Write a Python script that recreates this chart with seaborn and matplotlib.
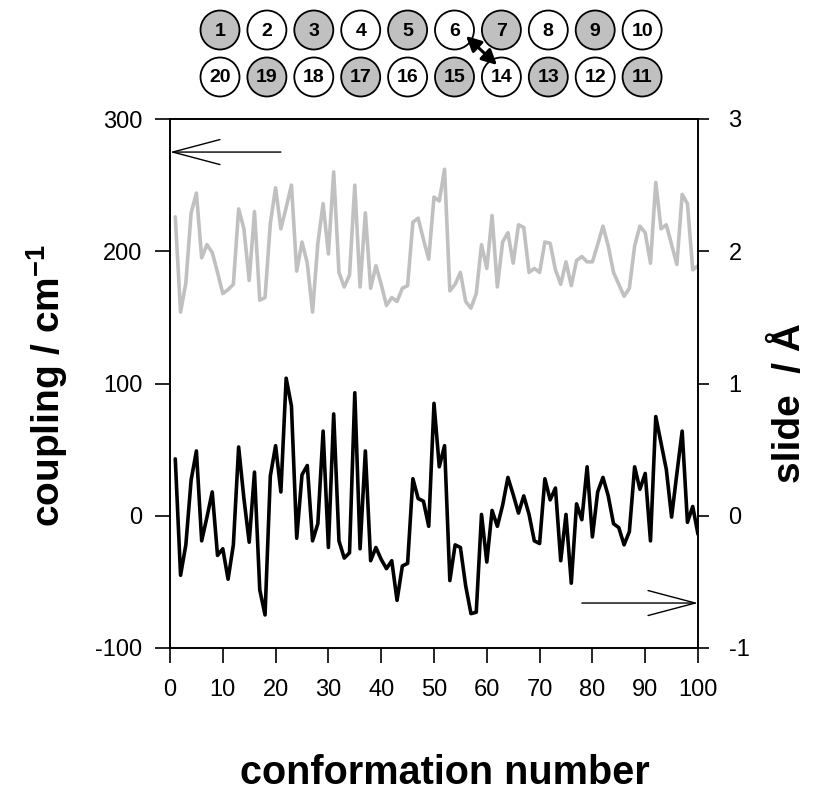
import numpy as np
import pandas as pd
import seaborn as sns
import matplotlib
matplotlib.use("Agg")
from matplotlib import pyplot as plt
from matplotlib.patches import Circle

# conformation index
conf = list(range(1, 101))

# coupling (cm^-1), grey trace, left axis
coupling = [226, 154, 176, 229, 244, 195, 205, 199, 184, 168,
            171, 175, 232, 217, 178, 230, 163, 165, 221, 248,
            217, 233, 250, 185, 207, 191, 154, 206, 236, 198,
            260, 184, 173, 182, 250, 173, 229, 172, 189, 175,
            159, 165, 162, 172, 174, 222, 225, 209, 194, 241,
            238, 262, 170, 175, 184, 162, 157, 168, 205, 187,
            227, 173, 207, 214, 191, 220, 218, 184, 187, 184,
            207, 206, 186, 175, 192, 174, 193, 196, 192, 192,
            205, 219, 204, 184, 175, 166, 172, 204, 219, 214,
            191, 252, 217, 220, 205, 190, 243, 236, 186, 189]

# slide (Angstrom), black trace, right axis
slide = [0.43, -0.45, -0.22, 0.27, 0.49, -0.19, -0.01, 0.18, -0.30, -0.25,
         -0.48, -0.22, 0.52, 0.13, -0.20, 0.33, -0.56, -0.75, 0.30, 0.53,
         0.18, 1.04, 0.83, -0.17, 0.31, 0.38, -0.19, -0.06, 0.64, -0.24,
         0.77, -0.19, -0.32, -0.28, 0.93, -0.25, 0.49, -0.34, -0.24, -0.33,
         -0.40, -0.34, -0.64, -0.38, -0.36, 0.28, 0.13, 0.11, -0.08, 0.85,
         0.37, 0.53, -0.49, -0.22, -0.24, -0.53, -0.74, -0.73, 0.01, -0.35,
         0.04, -0.08, 0.08, 0.29, 0.16, 0.02, 0.15, 0.01, -0.19, -0.21,
         0.28, 0.12, 0.21, -0.34, 0.01, -0.51, 0.09, -0.03, 0.37, -0.16,
         0.18, 0.29, 0.15, -0.06, -0.09, -0.22, -0.12, 0.37, 0.20, 0.32,
         -0.19, 0.75, 0.55, 0.35, -0.01, 0.32, 0.64, -0.05, 0.07, -0.14]

# stacking diagram
top_row = [1, 2, 3, 4, 5, 6, 7, 8, 9, 10]
bottom_row = [20, 19, 18, 17, 16, 15, 14, 13, 12, 11]
x_ticks = list(range(0, 101, 10))
left_ticks = [-100, 0, 100, 200, 300]
right_ticks = [-1, 0, 1, 2, 3]

sns.set_style("ticks")
plt.rcParams['font.family'] = ['Liberation Sans', 'DejaVu Sans']
plt.rcParams['mathtext.fontset'] = 'custom'
plt.rcParams['mathtext.rm'] = 'Liberation Sans'
plt.rcParams['mathtext.bf'] = 'Liberation Sans:bold'
plt.rcParams['axes.unicode_minus'] = False
for k in ('text.color', 'axes.labelcolor', 'xtick.color', 'ytick.color',
          'axes.edgecolor'):
    plt.rcParams[k] = 'black'

df = pd.DataFrame({'conf': conf, 'coupling': coupling, 'slide': slide})

W, H = 817, 801
fig = plt.figure(figsize=(W / 100, H / 100), dpi=100)
ax = fig.add_axes([170 / W, 1 - 648 / H, 528 / W, 529 / H])
ax2 = ax.twinx()

grey = '#c0c0c0'
sns.lineplot(data=df, x='conf', y='coupling', color=grey, lw=2.6, ax=ax)
sns.lineplot(data=df, x='conf', y='slide', color='black', lw=2.6, ax=ax2)

ax.set_xlim(0, 100)
ax.set_ylim(-100, 300)
ax2.set_ylim(-1, 3)
ax.set_xticks(x_ticks)
ax.set_yticks(left_ticks)
ax2.set_yticks(right_ticks)
ax.set_xlabel('')
ax.set_ylabel('')
ax2.set_ylabel('')

for a in (ax, ax2):
    for s in a.spines.values():
        s.set_visible(True)
        s.set_linewidth(1.2)
        s.set_color('black')
ax.tick_params(axis='x', direction='out', length=11, width=1.2, pad=11,
               labelsize=17, colors='black')
ax.tick_params(axis='y', direction='out', length=11, width=1.2, pad=9,
               labelsize=17, colors='black')
ax2.tick_params(axis='y', direction='out', length=8, width=1.2, pad=14,
                labelsize=17, colors='black')

# arrows telling which axis belongs to which trace
ax.annotate('', xy=(0, 275), xytext=(21, 275),
            arrowprops=dict(arrowstyle='->,head_length=3.4,head_width=0.9',
                            mutation_scale=10, lw=1, color='black',
                            shrinkA=0, shrinkB=0))
ax.annotate('', xy=(100, -66), xytext=(78, -66),
            arrowprops=dict(arrowstyle='->,head_length=3.4,head_width=0.9',
                            mutation_scale=10, lw=1, color='black',
                            shrinkA=0, shrinkB=0))

fig.text(47 / W, 1 - 385 / H, r'coupling / cm$^{\mathbf{-1}}$', rotation=90,
         ha='center', va='center', fontsize=28, fontweight='bold')
fig.text(790 / W, 1 - 403 / H, 'slide  / Å', rotation=90,
         ha='center', va='center', fontsize=28, fontweight='bold')
fig.text(445 / W, 1 - 773 / H, 'conformation number',
         ha='center', va='center', fontsize=28.5, fontweight='bold')

# circle diagram on top, drawn in pixel coordinates
dax = fig.add_axes([0, 0, 1, 1])
dax.set_xlim(0, W)
dax.set_ylim(H, 0)
dax.axis('off')
x0, dx = 220, 46.9
for row, y in ((top_row, 30), (bottom_row, 77)):
    for i, n in enumerate(row):
        fc = grey if n % 2 == 1 else 'white'
        dax.add_patch(Circle((x0 + i * dx, y), 19.5, fc=fc, ec='black', lw=1.3))
        dax.text(x0 + i * dx, y + 1, str(n), ha='center', va='center',
                 fontsize=14, fontweight='bold')
dax.annotate('', xy=(497, 65), xytext=(466, 36),
             arrowprops=dict(arrowstyle='<|-|>,head_length=0.9,head_width=0.45',
                             mutation_scale=10, lw=2.2, color='black',
                             shrinkA=0, shrinkB=0))

fig.savefig('out.png', dpi=100)
